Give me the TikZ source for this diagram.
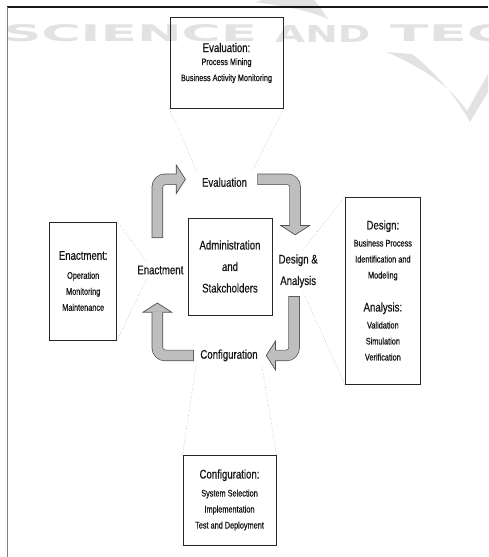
\documentclass[tikz,border=0pt]{standalone}
\usepackage{fontspec}
\usepackage{graphicx}
\setmainfont{Liberation Sans}
\newfontfamily\narrowsf[FakeStretch=0.77, FakeBold=0.6]{Liberation Sans}
\newfontfamily\markfont{DejaVu Sans}
\usetikzlibrary{arrows.meta,positioning,calc}

\definecolor{inkgray}{HTML}{161616}
\definecolor{rimgray}{HTML}{505050}
\definecolor{arrowgray}{HTML}{BEBEBE}
\definecolor{markgray}{HTML}{E2E2E2}

% larger first line inside the detail boxes
\newcommand{\phasehead}[1]{{\fontsize{12.5}{16}\selectfont #1}}
% bent block arrow: dark rim first, then the grey body on top
\newcommand{\bentarrow}[1]{%
  \draw[arrowrim] #1;
  \draw[arrowbody] #1;}

\begin{document}
\begin{tikzpicture}[
    x=1pt, y=1pt,
    hub/.style={draw=black!85, line width=0.9pt, minimum width=84pt, minimum height=97pt, align=center, text=inkgray, font=\narrowsf\fontsize{12.5}{21.5}\selectfont},
    phase/.style={inner sep=4pt, align=center, text=inkgray, font=\narrowsf\fontsize{12.5}{21.5}\selectfont},
    detail/.style={draw=black!85, line width=0.9pt, inner sep=0pt, align=center, text=inkgray, font=\narrowsf\fontsize{9.5}{16}\selectfont},
    guide/.style={draw=black!30, dotted, line width=0.6pt},
    wmark/.style={inner sep=0pt, text=markgray, font=\markfont\bfseries},
    swoosh/.style={fill=markgray, draw=none},
    arrowrim/.style={draw=rimgray, line width=11.4pt, rounded corners=8pt, shorten <=-0.7pt,
        -{Triangle[length=10pt, width=31pt, line width=0.7pt, fill=arrowgray]}},
    arrowbody/.style={draw=arrowgray, line width=10pt, rounded corners=8pt, shorten >=9pt}
]
    \useasboundingbox (0,0) rectangle (488,-557);

    % watermark behind everything
    \node[wmark, anchor=west] (wmscience) at (3,-33.5) {\resizebox{254pt}{17pt}{SCIENCE}};
    \node[wmark, anchor=west] (wmand) at (275,-33.5) {\resizebox{95pt}{17pt}{AND}};
    \node[wmark, anchor=west] (wmtec) at (390,-33.5) {\resizebox{118pt}{17pt}{TEC}};
    \fill[swoosh] (255,-2) .. controls (285,-6) and (310,-11) .. (328,-19)
        .. controls (322,-10) and (318,-4) .. (314,0) -- (262,0) -- cycle;
    \fill[swoosh] (386,-52) .. controls (420,-66) and (450,-86) .. (467,-111)
        -- (488,-74) -- (488,-92) -- (470,-122)
        .. controls (455,-95) and (435,-72) .. (412,-54) -- cycle;

    % page frame
    \draw[black!90, line width=1.2pt] (7,-7) -- (488,-7);
    \draw[black!50, line width=1.3pt] (7.5,-7) -- (7.5,-557);

    % life cycle
    \node[hub] (admin) at (230,-266.5) {Administration\\and\\Stakcholders};
    \node[phase, above=26.5pt of admin, xshift=-5.5pt] (eval) {Evaluation};
    \node[phase, right=2pt of admin, yshift=-4.5pt] (design) {Design \&\\Analysis};
    \node[phase, below=30pt of admin, xshift=-1pt] (config) {Configuration};
    \node[phase, left=0pt of admin, yshift=-3.5pt] (enact) {Enactment};

    \bentarrow{($(enact.north)+(-3pt,24pt)$) |- ($(eval.west)+(-12pt,3pt)$)}
    \bentarrow{($(eval.east)+(7pt,3pt)$) -| ($(design.north)+(-3pt,15pt)$)}
    \bentarrow{($(design.south)+(-4pt,-5pt)$) |- ($(config.east)+(4pt,0pt)$)}
    \bentarrow{($(config.west)+(-3pt,0pt)$) -| ($(enact.south)+(-3pt,-24pt)$)}

    % detail boxes
    \node[detail, minimum width=113pt, minimum height=91pt, above=64.5pt of eval, xshift=2pt] (evalbox)
        {\phasehead{Evaluation:}\\[-3pt] Process Mining\\ Business Activity Monitoring};
    \node[detail, minimum width=67pt, minimum height=118pt, left=16pt of enact, yshift=-11pt] (enactbox)
        {\phasehead{Enactment:}\\[3pt] Operation\\ Monitoring\\ Maintenance};
    \node[detail, minimum width=75pt, minimum height=187pt, right=23pt of design, yshift=-19.5pt] (designbox)
        {\phasehead{Design:}\\[1pt] Business Process\\ Identification and\\ Modeling\\[17pt]
         \phasehead{Analysis:}\\[1pt] Validation\\ Simulation\\ Verification};
    \node[detail, minimum width=93pt, minimum height=90pt, below=89pt of config, xshift=0.5pt] (configbox)
        {\phasehead{Configuration:}\\[2pt] System Selection\\ Implementation\\ Test and Deployment};

    \draw[guide] (evalbox.south west) -- (eval.north west);
    \draw[guide] (evalbox.south east) -- (eval.north east);
    \draw[guide] (enactbox.north east) -- ($(enact.north west)!.25!(enact.north east)$);
    \draw[guide] (enactbox.south east) -- ($(enact.south west)!.25!(enact.south east)$);
    \draw[guide] (designbox.north west) -- ($(design.north)!.2!(design.north east)$);
    \draw[guide] (designbox.south west) -- ($(design.south)!.2!(design.south east)$);
    \draw[guide] (configbox.north west) -- (config.south west);
    \draw[guide] (configbox.north east) -- (config.south east);
\end{tikzpicture}
\end{document}
